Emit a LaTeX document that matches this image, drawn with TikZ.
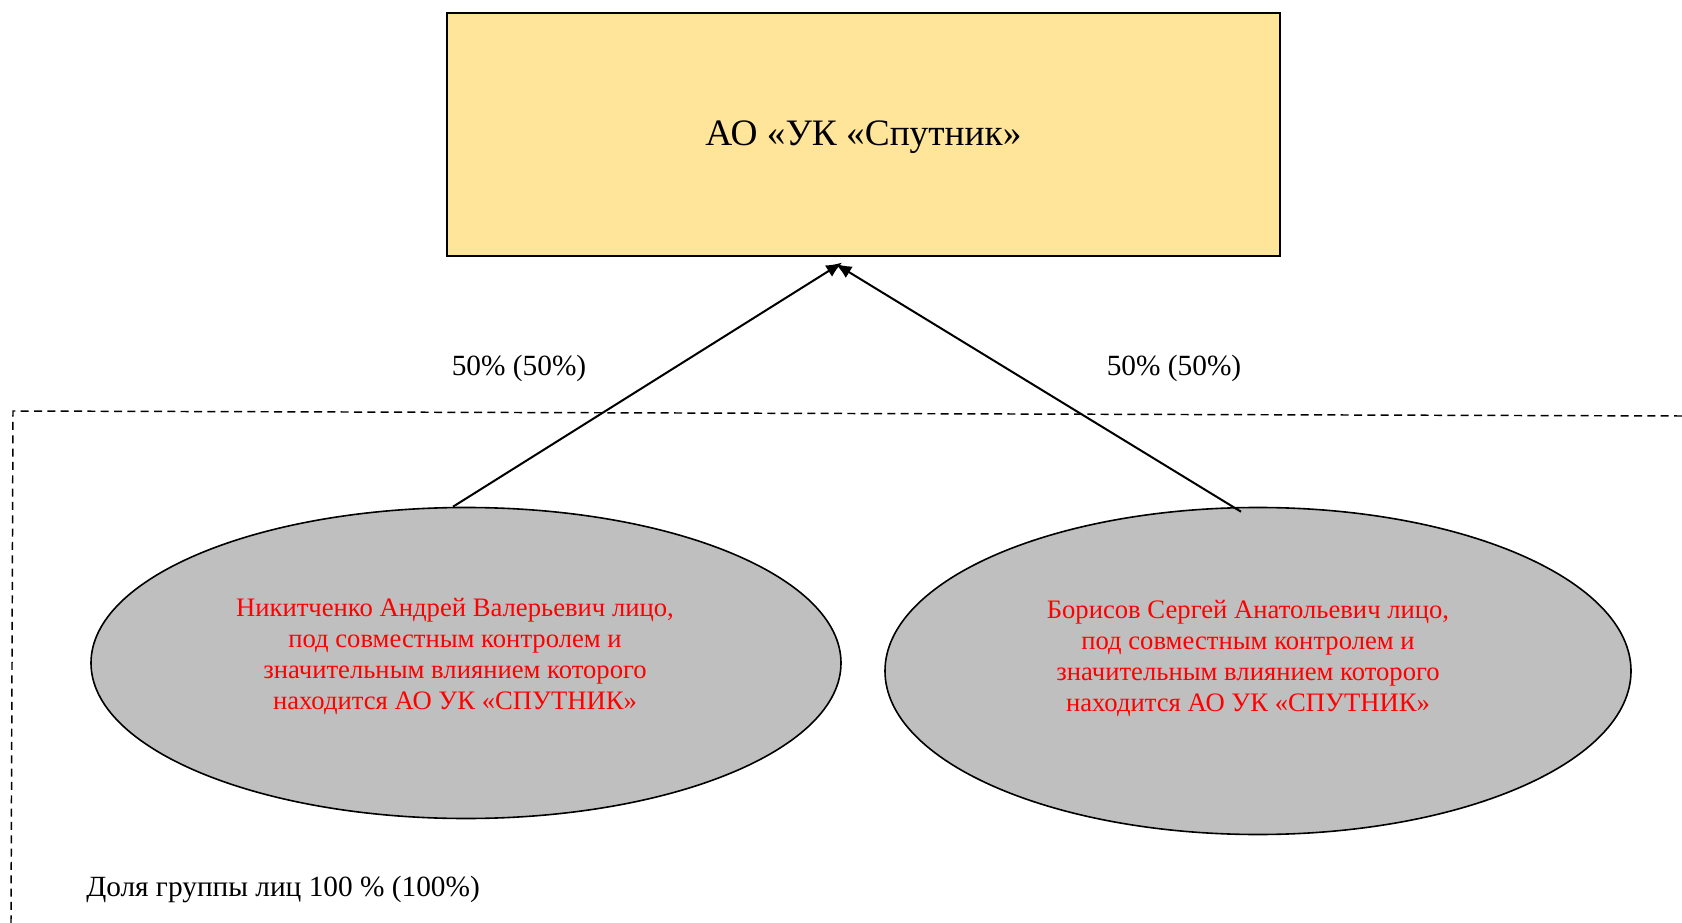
\documentclass[tikz,border=0pt]{standalone}
\usepackage{fontspec}
\setmainfont{Liberation Serif}
\usepackage{xcolor}
\usepackage{tikz}
\usetikzlibrary{calc}
\usetikzlibrary{arrows.meta, shapes.geometric, calc}
\definecolor{boxfill}{RGB}{255,229,153}
\definecolor{ovalfill}{RGB}{191,191,191}
\tikzset{
  firmbox/.style={draw=black, line width=1.8pt, fill=boxfill, minimum width=624.75pt, minimum height=182.25pt, inner sep=0pt, font=\fontsize{28}{32}\selectfont},
  personoval/.style={ellipse, draw=black, line width=1.2pt, fill=ovalfill, inner sep=0pt},
  persontext/.style={align=center, text=red, inner sep=0pt, font=\fontsize{20}{23.25}\selectfont},
  sharetext/.style={font=\fontsize{22}{26}\selectfont, inner sep=0pt},
  owns/.style={line width=1.5pt, -{Latex[length=12pt,width=10pt]}},
}
\begin{document}
\begin{tikzpicture}[x=0.750000pt,y=-0.750000pt]
\useasboundingbox (0.000000,0.000000) rectangle (1682.000000,923.000000);
% Drawing the company box
\node[firmbox] (company) at (863.500000,134.500000) {};
\node[inner sep=0pt, font=\fontsize{28}{32}\selectfont] (companyname) at (863.500000,137.500000) {АО «УК «Спутник»};
% Drawing the owners
\node[personoval, minimum width=562.5pt, minimum height=233.25pt] (nikit) at (466.000000,663.000000) {};
\node[persontext] (nikittext) at (455.000000,656.500000) {Никитченко Андрей Валерьевич лицо,\\под совместным контролем и\\значительным влиянием которого\\находится АО УК «СПУТНИК»};
\node[personoval, minimum width=559.5pt, minimum height=245.25pt] (boris) at (1258.000000,671.000000) {};
\node[persontext] (boristext) at (1248.000000,658.500000) {Борисов Сергей Анатольевич лицо,\\под совместным контролем и\\значительным влиянием которого\\находится АО УК «СПУТНИК»};
% Done with nodes; drawing the group frame
\draw[dashed, line width=1.1pt, dash pattern=on 6pt off 4pt] (1682.000000,416.000000) -- (13.000000,411.000000) -- (11.000000,923.000000);
% Drawing shares
\draw[owns] (nikit.north) ++(-13.000000,0.000000) -- ([xshift=-16pt,yshift=-4pt]company.south);
\draw[owns] (boris.north) ++(-17.000000,5.000000) -- ([xshift=-21pt,yshift=-5pt]company.south);
\node[sharetext] (shareL) at (519.000000,368.000000) {50\% (50\%)};
\node[sharetext] (shareR) at (1174.000000,368.000000) {50\% (50\%)};
% Drawing group label
\node[sharetext, anchor=west] (group) at (86.000000,889.000000) {Доля группы лиц 100 \% (100\%)};
\end{tikzpicture}
\end{document}
